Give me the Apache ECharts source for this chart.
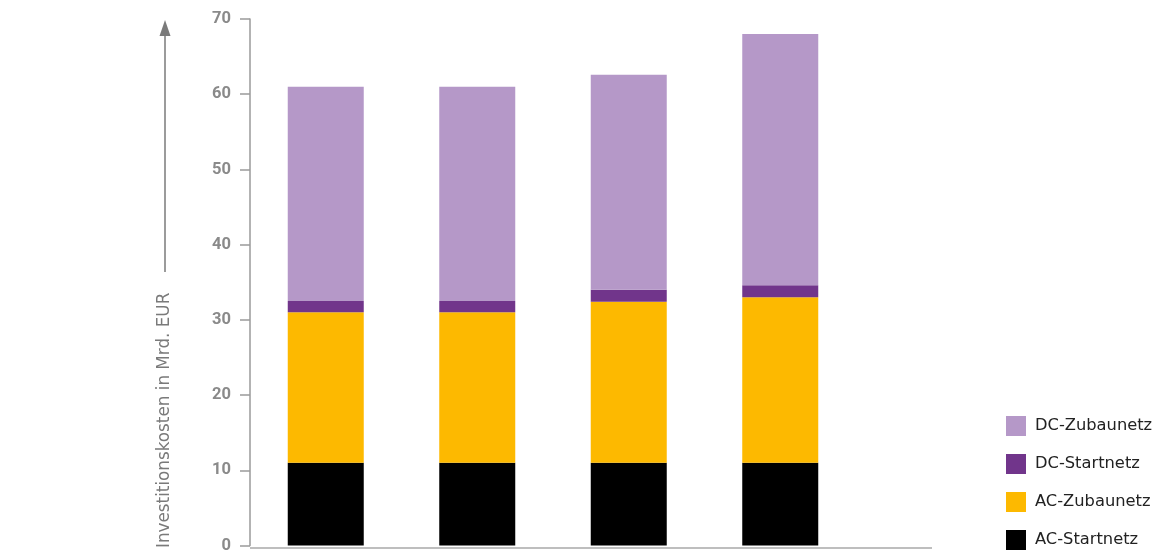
<!DOCTYPE html>
<html><head><meta charset="utf-8">
<script src="https://cdn.jsdelivr.net/npm/echarts@6/dist/echarts.min.js"></script>
<style>html,body{margin:0;padding:0;background:#fff}#c{width:1173px;height:554px}</style>
</head><body><div id="c"></div>
<script>
const categories = ['1', '2', '3', '4'];
const acStart = [11, 11, 11, 11];
const acZubau = [20, 20, 21.4, 22];
const dcStart = [1.5, 1.5, 1.6, 1.6];
const dcZubau = [28.5, 28.5, 28.6, 33.4];
const yTicks = [0, 10, 20, 30, 40, 50, 60, 70];
const seriesNames = ['AC-Startnetz', 'AC-Zubaunetz', 'DC-Startnetz', 'DC-Zubaunetz'];
const colors = ['#000000', '#fdb900', '#71358b', '#b598c8'];
const values = [acStart, acZubau, dcStart, dcZubau];

const chart = echarts.init(document.getElementById('c'));
chart.setOption({
  animation: false,
  grid: {left: 250, right: 317, top: 19, bottom: 6},
  legend: {
    data: ['DC-Zubaunetz', 'DC-Startnetz', 'AC-Zubaunetz', 'AC-Startnetz'],
    orient: 'vertical', left: 1006, top: 416, padding: 0,
    itemWidth: 20, itemHeight: 20, itemGap: 18,
    icon: 'rect',
    textStyle: {fontFamily: 'DejaVu Sans', fontSize: 16.3, color: '#222', padding: [0, 0, 0, 4]}
  },
  xAxis: {
    type: 'category', data: categories,
    axisLine: {show: false},
    axisTick: {show: false}, axisLabel: {show: false}, splitLine: {show: false}
  },
  yAxis: {
    type: 'value', min: yTicks[0], max: yTicks[yTicks.length - 1], interval: 10,
    axisLine: {show: true, lineStyle: {color: '#9a9a9a', width: 1.5}},
    axisTick: {show: true, inside: false, length: 10, lineStyle: {color: '#9a9a9a', width: 1.5}},
    axisLabel: {margin: 19, fontFamily: 'Roboto', fontWeight: 'bold', fontSize: 16.5, color: '#8a8a8a'},
    splitLine: {show: false}
  },
  graphic: [
    {type: 'line', shape: {x1: 250, y1: 548, x2: 932, y2: 548}, style: {stroke: '#a8a8a8', lineWidth: 1.5}, z: 1},
    {type: 'text', x: 156, y: 548, rotation: Math.PI / 2,
     style: {text: 'Investitionskosten in Mrd. EUR', fontFamily: 'DejaVu Sans', fontSize: 16.8, fill: '#7a7a7a', align: 'left', verticalAlign: 'top'}},
    {type: 'line', shape: {x1: 165, y1: 272, x2: 165, y2: 32}, style: {stroke: '#7a7a7a', lineWidth: 1.5}},
    {type: 'polygon', shape: {points: [[159.5, 36], [170.5, 36], [165, 20]]}, style: {fill: '#7a7a7a'}}
  ],
  series: seriesNames.map((n, i) => ({
    name: n, type: 'bar', stack: 'total', barWidth: 76,
    itemStyle: {color: colors[i]},
    data: values[i]
  }))
});
</script></body></html>
